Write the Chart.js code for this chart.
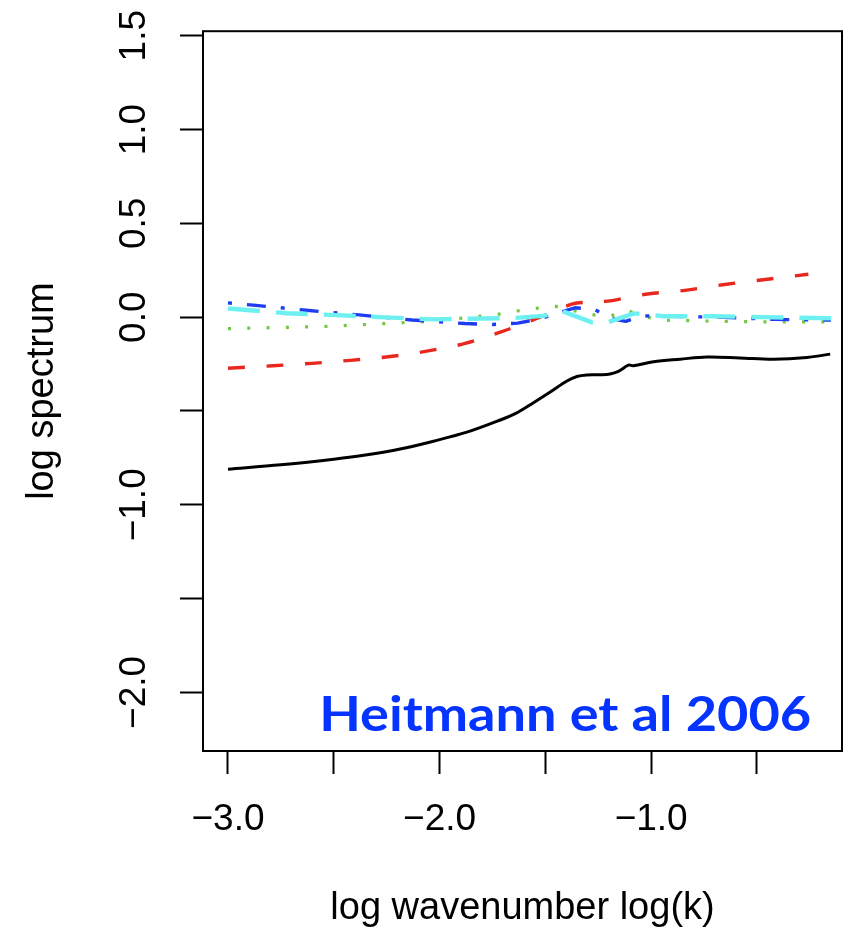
<!DOCTYPE html>
<html>
<head>
<meta charset="utf-8">
<script src="https://cdn.jsdelivr.net/npm/chart.js@4.4.1/dist/chart.umd.min.js"></script>
<style>
  html, body { margin: 0; padding: 0; background: #ffffff; }
  canvas { display: block; }
</style>
</head>
<body>
<canvas id="spectrum" width="867" height="935"></canvas>
<script>
// log wavenumber (x) and log spectrum (y) of each curve
const solidK = [-3.0, -2.75, -2.5, -2.35, -2.186, -2.029, -1.871, -1.713, -1.635, -1.556, -1.477, -1.398, -1.351, -1.304, -1.241, -1.194, -1.155, -1.107, -1.084, -0.989, -0.863, -0.737, -0.582, -0.422, -0.264, -0.154];
const solidP = [-0.81, -0.787, -0.757, -0.735, -0.703, -0.661, -0.613, -0.548, -0.51, -0.456, -0.399, -0.34, -0.316, -0.308, -0.307, -0.303, -0.289, -0.256, -0.259, -0.238, -0.224, -0.212, -0.217, -0.224, -0.215, -0.197];

const dashedK = [-3.0, -2.787, -2.604, -2.423, -2.243, -2.06, -1.879, -1.713, -1.541, -1.371, -1.30, -1.23, -1.193, -1.026, -0.84, -0.661, -0.48, -0.30, -0.257];
const dashedP = [-0.272, -0.259, -0.246, -0.23, -0.211, -0.181, -0.14, -0.08, -0.007, 0.071, 0.08, 0.083, 0.087, 0.122, 0.143, 0.173, 0.198, 0.223, 0.229];

const dottedK = [-3.0, -2.55, -2.09, -1.91, -1.73, -1.64, -1.55, -1.46, -1.29, -1.20, -1.115, -1.04, -0.95, -0.76, -0.49, -0.15];
const dottedP = [-0.061, -0.05, -0.025, -0.007, 0.014, 0.032, 0.046, 0.06, 0.015, 0.002, 0.037, 0.005, -0.016, -0.02, -0.025, -0.025];

const dotDashK = [-3.0, -2.88, -2.63, -2.38, -2.13, -1.88, -1.75, -1.63, -1.52, -1.43, -1.36, -1.27, -1.19, -1.12, -1.04, -0.90, -0.68, -0.42, -0.15];
const dotDashP = [0.076, 0.064, 0.037, 0.012, -0.015, -0.034, -0.039, -0.032, -0.007, 0.025, 0.05, 0.043, -0.007, -0.022, 0.007, 0.004, 0.0, -0.012, -0.016];

const longDashK = [-3.0, -2.72, -2.49, -2.26, -2.03, -1.80, -1.64, -1.51, -1.42, -1.28, -1.20, -1.08, -0.94, -0.70, -0.47, -0.13];
const longDashP = [0.046, 0.021, 0.011, -0.001, -0.012, -0.007, -0.004, 0.007, 0.032, -0.028, -0.025, 0.02, 0.005, 0.005, 0.0, -0.006];

// axis ticks and their labels (blank labels keep the tick mark only)
const xTicks = [-3.0, -2.5, -2.0, -1.5, -1.0, -0.5];
const xTickLabels = ['\u22123.0', '', '\u22122.0', '', '\u22121.0', ''];
const yTicks = [-2.0, -1.5, -1.0, -0.5, 0.0, 0.5, 1.0, 1.5];
const yTickLabels = ['\u22122.0', '', '\u22121.0', '', '0.0', '0.5', '1.0', '1.5'];

// note placed inside the plot: left edge and baseline in data units
const noteText = 'Heitmann et al 2006';
const noteK = -2.569;
const noteP = -2.203;

const pairs = (xs, ys) => xs.map((x, i) => ({ x: x, y: ys[i] }));

const tickFont = { family: "'Liberation Sans', Arial, Helvetica, sans-serif", size: 37 };
const titleFont = { family: "'Liberation Sans', Arial, Helvetica, sans-serif", size: 38 };

const boxPlugin = {
  id: 'plotBox',
  afterDatasetsDraw(chart) {
    const a = chart.chartArea;
    const ctx = chart.ctx;
    ctx.save();
    ctx.strokeStyle = '#000000';
    ctx.lineWidth = 2;
    ctx.strokeRect(a.left, a.top, a.right - a.left, a.bottom - a.top);
    ctx.restore();
  }
};

const notePlugin = {
  id: 'citationNote',
  afterDraw(chart) {
    const ctx = chart.ctx;
    const x = chart.scales.x.getPixelForValue(noteK);
    const y = chart.scales.y.getPixelForValue(noteP);
    ctx.save();
    ctx.font = "bold 48px Lato, 'Open Sans', sans-serif";
    ctx.fillStyle = '#0533ff';
    ctx.textAlign = 'left';
    ctx.textBaseline = 'alphabetic';
    const w = ctx.measureText(noteText).width;
    const sx = Math.min(1.15, Math.max(0.85, 492 / w));
    ctx.translate(x, y);
    ctx.scale(sx, 1);
    ctx.fillText(noteText, 0, 0);
    ctx.restore();
  }
};

const lineSet = (label, xs, ys, color, width, dash, tension, order) => ({
  label: label,
  data: pairs(xs, ys),
  borderColor: color,
  backgroundColor: color,
  borderWidth: width,
  borderDash: dash,
  borderCapStyle: 'butt',
  borderJoinStyle: 'round',
  pointRadius: 0,
  pointHoverRadius: 0,
  fill: false,
  cubicInterpolationMode: 'default',
  tension: tension,
  order: order
});

new Chart(document.getElementById('spectrum'), {
  type: 'line',
  data: {
    datasets: [
      lineSet('solid', solidK, solidP, '#000000', 3, [], 0.35, 4),
      lineSet('dashed', dashedK, dashedP, 'rgb(232,40,30)', 3.4, [17, 21.5], 0.3, 3),
      lineSet('dotted', dottedK, dottedP, 'rgb(112,200,64)', 3.2, [3, 16.3], 0, 2),
      lineSet('dotdash', dotDashK, dotDashP, 'rgb(30,60,240)', 3.4, [4, 15, 19, 15], 0, 1),
      lineSet('longdash', longDashK, longDashP, 'rgb(110,240,240)', 4.4, [32, 16], 0, 0)
    ]
  },
  options: {
    responsive: false,
    animation: false,
    devicePixelRatio: 1,
    layout: { padding: { top: 31, right: 25, left: 0, bottom: 0 } },
    plugins: {
      legend: { display: false },
      tooltip: { enabled: false }
    },
    scales: {
      x: {
        type: 'linear',
        min: -3.118,
        max: -0.098,
        afterBuildTicks(scale) { scale.ticks = xTicks.map(v => ({ value: v })); },
        afterFit(scale) { scale.height = 184; },
        grid: {
          display: true,
          drawOnChartArea: false,
          drawTicks: true,
          tickLength: 23,
          tickWidth: 2,
          tickColor: '#000000'
        },
        border: { display: false },
        ticks: {
          autoSkip: false,
          maxRotation: 0,
          minRotation: 0,
          padding: 24,
          color: '#000000',
          font: tickFont,
          callback: (v) => xTickLabels[xTicks.indexOf(v)]
        },
        title: {
          display: true,
          text: 'log wavenumber log(k)',
          color: '#000000',
          font: titleFont,
          padding: { top: 0, bottom: 4 }
        }
      },
      y: {
        type: 'linear',
        min: -2.312,
        max: 1.524,
        afterBuildTicks(scale) { scale.ticks = yTicks.map(v => ({ value: v })); },
        afterFit(scale) { scale.width = 203; },
        grid: {
          display: true,
          drawOnChartArea: false,
          drawTicks: true,
          tickLength: 23,
          tickWidth: 2,
          tickColor: '#000000'
        },
        border: { display: false },
        ticks: {
          autoSkip: false,
          minRotation: 90,
          maxRotation: 90,
          crossAlign: 'center',
          padding: 9,
          color: '#000000',
          font: tickFont,
          callback: (v) => yTickLabels[yTicks.indexOf(v)]
        },
        title: {
          display: true,
          text: 'log spectrum',
          color: '#000000',
          font: titleFont,
          padding: { top: 20, bottom: 0 }
        }
      }
    }
  },
  plugins: [boxPlugin, notePlugin]
});
</script>
</body>
</html>
